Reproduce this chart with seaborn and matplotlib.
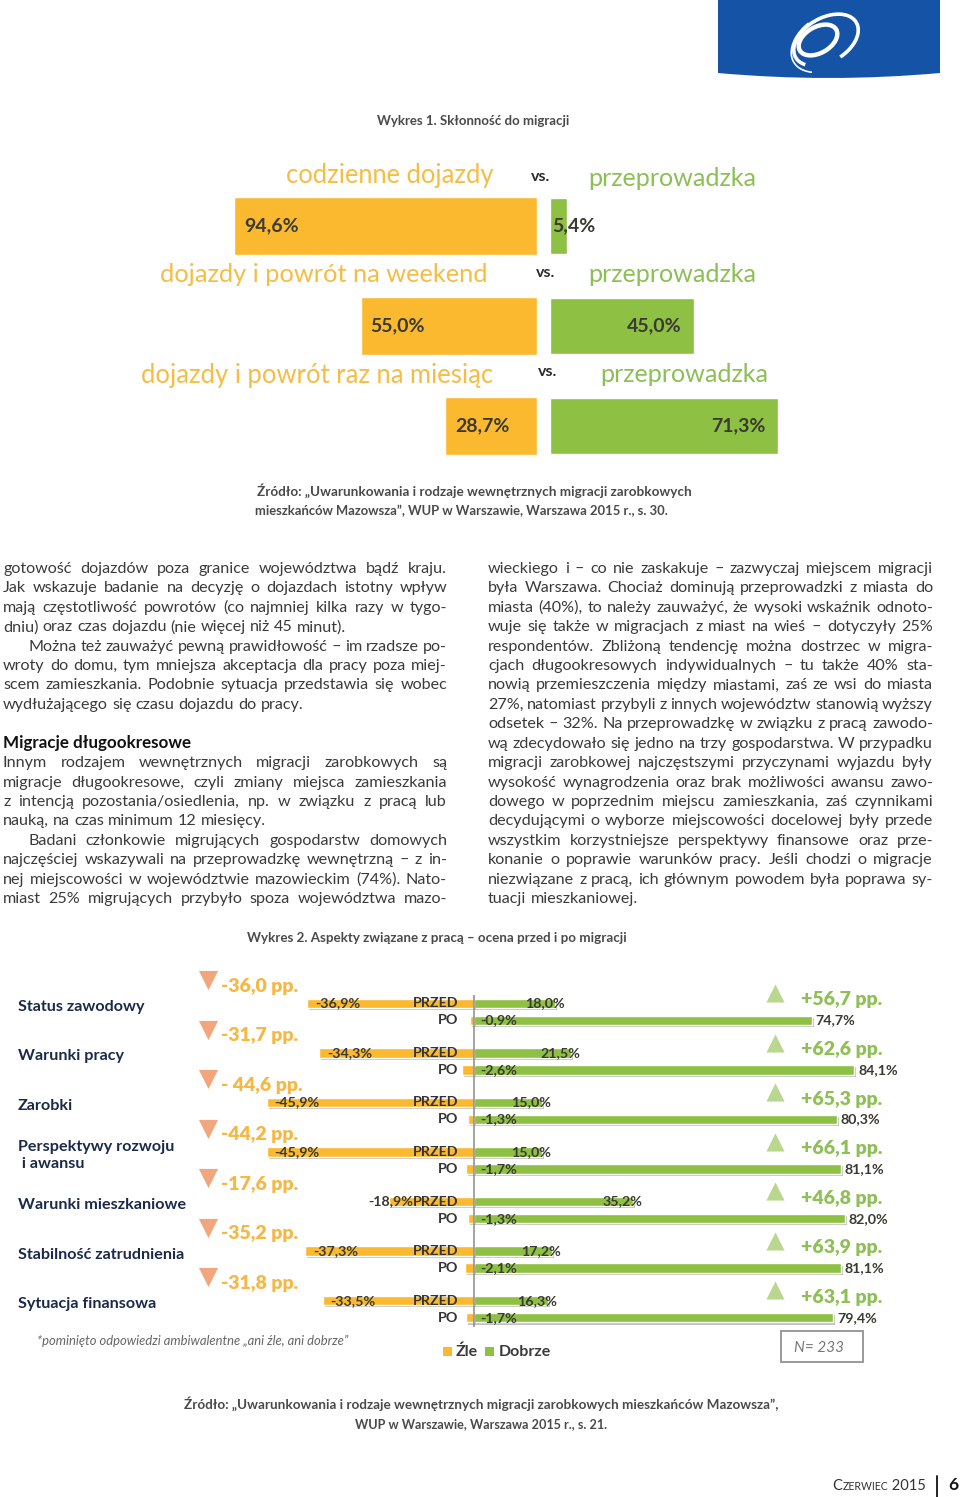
import numpy as np
import pandas as pd
import matplotlib
matplotlib.use("Agg")
import matplotlib.pyplot as plt
import seaborn as sns
from matplotlib import transforms
from matplotlib.patches import Rectangle, PathPatch, Ellipse, Arc
from matplotlib.path import Path
import matplotlib.patheffects as pe
from matplotlib import font_manager as fm

# ---------------- data: chart 1 ----------------
c1_commute = ["codzienne dojazdy", "dojazdy i powrót na weekend", "dojazdy i powrót raz na miesiąc"]
c1_commute_pct = [94.6, 55.0, 28.7]
c1_move_label = "przeprowadzka"
c1_move_pct = [5.4, 45.0, 71.3]

# ---------------- data: chart 2 ----------------
c2_aspects = ["Status zawodowy", "Warunki pracy", "Zarobki", "Perspektywy rozwoju\n i awansu",
              "Warunki mieszkaniowe", "Stabilność zatrudnienia", "Sytuacja finansowa"]
c2_periods = ["PRZED", "PO"]
c2_bad_before = [-36.9, -34.3, -45.9, -45.9, -18.9, -37.3, -33.5]
c2_bad_after = [-0.9, -2.6, -1.3, -1.7, -1.3, -2.1, -1.7]
c2_good_before = [18.0, 21.5, 15.0, 15.0, 35.2, 17.2, 16.3]
c2_good_after = [74.7, 84.1, 80.3, 81.1, 82.0, 81.1, 79.4]
c2_bad_change = ["-36,0 pp.", "-31,7 pp.", "- 44,6 pp.", "-44,2 pp.", "-17,6 pp.", "-35,2 pp.", "-31,8 pp."]
c2_good_change = ["+56,7 pp.", "+62,6 pp.", "+65,3 pp.", "+66,1 pp.", "+46,8 pp.", "+63,9 pp.", "+63,1 pp."]
c2_legend = ["Źle", "Dobrze"]
c2_n = "N= 233"

# ---------------- body text ----------------
left_col = [
    ("gotowość dojazdów poza granice województwa bądź kraju.", "j"),
    ("Jak wskazuje badanie na decyzję o dojazdach istotny wpływ", "j"),
    ("mają częstotliwość powrotów (co najmniej kilka razy w tygo-", "j"),
    ("dniu) oraz czas dojazdu (nie więcej niż 45 minut).", "l"),
    ("Można też zauważyć pewną prawidłowość – im rzadsze po-", "ij"),
    ("wroty do domu, tym mniejsza akceptacja dla pracy poza miej-", "j"),
    ("scem zamieszkania. Podobnie sytuacja przedstawia się wobec", "j"),
    ("wydłużającego się czasu dojazdu do pracy.", "l"),
    ("", "blank"),
    ("Migracje długookresowe", "h"),
    ("Innym rodzajem wewnętrznych migracji zarobkowych są", "j"),
    ("migracje długookresowe, czyli zmiany miejsca zamieszkania", "j"),
    ("z intencją pozostania/osiedlenia, np. w związku z pracą lub", "j"),
    ("nauką, na czas minimum 12 miesięcy.", "l"),
    ("Badani członkowie migrujących gospodarstw domowych", "ij"),
    ("najczęściej wskazywali na przeprowadzkę wewnętrzną – z in-", "j"),
    ("nej miejscowości w województwie mazowieckim (74%). Nato-", "j"),
    ("miast 25% migrujących przybyło spoza województwa mazo-", "j"),
]
right_col = [
    ("wieckiego i – co nie zaskakuje – zazwyczaj miejscem migracji", "j"),
    ("była Warszawa. Chociaż dominują przeprowadzki z miasta do", "j"),
    ("miasta (40%), to należy zauważyć, że wysoki wskaźnik odnoto-", "j"),
    ("wuje się także w migracjach z miast na wieś – dotyczyły 25%", "j"),
    ("respondentów. Zbliżoną tendencję można dostrzec w migra-", "j"),
    ("cjach długookresowych indywidualnych – tu także 40% sta-", "j"),
    ("nowią przemieszczenia między miastami, zaś ze wsi do miasta", "j"),
    ("27%, natomiast przybyli z innych województw stanowią wyższy", "j"),
    ("odsetek – 32%. Na przeprowadzkę w związku z pracą zawodo-", "j"),
    ("wą zdecydowało się jedno na trzy gospodarstwa. W przypadku", "j"),
    ("migracji zarobkowej najczęstszymi przyczynami wyjazdu były", "j"),
    ("wysokość wynagrodzenia oraz brak możliwości awansu zawo-", "j"),
    ("dowego w poprzednim miejscu zamieszkania, zaś czynnikami", "j"),
    ("decydującymi o wyborze miejscowości docelowej były przede", "j"),
    ("wszystkim korzystniejsze perspektywy finansowe oraz prze-", "j"),
    ("konanie o poprawie warunków pracy. Jeśli chodzi o migracje", "j"),
    ("niezwiązane z pracą, ich głównym powodem była poprawa sy-", "j"),
    ("tuacji mieszkaniowej.", "l"),
]

# ---------------- styling ----------------
ORANGE = "#FBB92F"
GREEN = "#8DC043"
ORANGE_TXT = "#F6BD45"
GREEN_TXT = "#8CBF55"
DARK = "#3a3a32"
BODY = "#3a3a3a"
GRAY_T = "#4a4a4a"
NAVY = "#1B2A4A"

W, H = 960, 1497
sns.set_theme(style="white")


def has_font(name):
    try:
        fm.findfont(fm.FontProperties(family=name), fallback_to_default=False)
        return True
    except Exception:
        return False


NARROW = "Liberation Sans Narrow" if has_font("Liberation Sans Narrow") else "Lato"
plt.rcParams["font.family"] = ["Lato", "DejaVu Sans"]

fig = plt.figure(figsize=(W / 100, H / 100), dpi=100)
page = fig.add_axes([0, 0, 1, 1])
page.set_xlim(0, W)
page.set_ylim(H, 0)
page.axis("off")
page.set_zorder(0)
renderer = fig.canvas.get_renderer()


def px_axes(x0, y0, x1, y1):
    ax = fig.add_axes([x0 / W, 1 - y1 / H, (x1 - x0) / W, (y1 - y0) / H])
    ax.patch.set_alpha(0)
    ax.set_zorder(2)
    return ax


def width_of(t):
    return t.get_window_extent(renderer).width


def measure(s, fs, **kw):
    t = page.text(0, 0, s, fontsize=fs, **kw)
    w = width_of(t)
    t.remove()
    return w


def fit(x, y, s, target_w, ha="left", va="center", **kw):
    t = page.text(x, y, s, fontsize=10, ha=ha, va=va, **kw)
    w = width_of(t)
    t.set_fontsize(10 * target_w / w)
    return t


# ---------------- logo ----------------
logo_path = Path([(718, 0), (940, 0), (940, 73), (829, 83), (718, 73), (718, 0)],
                 [Path.MOVETO, Path.LINETO, Path.LINETO, Path.CURVE3, Path.CURVE3, Path.CLOSEPOLY])
page.add_patch(PathPatch(logo_path, facecolor="#1553A6", edgecolor="none"))
page.add_patch(Ellipse((818, 40), 42, 26, angle=-30, fill=False, ec="white", lw=3.2))
page.add_patch(Arc((826, 40), 70, 44, angle=-30, theta1=-200, theta2=80, ec="white", lw=2.6))
page.add_patch(Arc((830, 41), 84, 54, angle=-30, theta1=150, theta2=250, ec="white", lw=1.2))

# ---------------- chart 1 ----------------
fit(473, 121, "Wykres 1. Skłonność do migracji", 193, ha="center", color=GRAY_T, fontweight="bold")

df1 = pd.DataFrame({"kategoria": c1_commute, "dojazdy": c1_commute_pct, "przeprowadzka": c1_move_pct})
axL = px_axes(217, 176, 537, 476)
axR = px_axes(550, 176, 870, 476)
sns.barplot(data=df1, x="dojazdy", y="kategoria", color=ORANGE, saturation=1, width=0.58, orient="h", ax=axL)
sns.barplot(data=df1, x="przeprowadzka", y="kategoria", color=GREEN, saturation=1, width=0.56, orient="h", ax=axR)
axL.set_xlim(100, 0)
axR.set_xlim(0, 100)
for ax in (axL, axR):
    ax.set_ylim(2.5, -0.5)
    ax.axis("off")


def pct(v):
    return f"{v:.1f}".replace(".", ",") + "%"


for i, v in enumerate(c1_commute_pct):
    axL.text(v - 3, i, pct(v), ha="left", va="center", fontsize=14, fontweight="bold", color=DARK)
for i, v in enumerate(c1_move_pct):
    if v < 15:
        axR.text(0.6, i, pct(v), ha="left", va="center", fontsize=14, fontweight="bold", color=DARK)
    else:
        axR.text(v - 4, i, pct(v), ha="right", va="center", fontsize=14, fontweight="bold", color=DARK)

c1_label_px = [(493, 175, 208), (488, 275, 329), (493, 375, 353)]
c1_vs_px = [(541, 177), (546, 273), (548, 372)]
c1_move_px = [(588, 178), (588, 275), (600, 375)]
for i, lab in enumerate(c1_commute):
    x, y, w = c1_label_px[i]
    fit(x, y, lab, w, ha="right", color=ORANGE_TXT)
    page.text(c1_vs_px[i][0], c1_vs_px[i][1], "vs.", ha="center", va="center", fontsize=11.5,
              fontweight="bold", color="#2b2b2b")
    fit(c1_move_px[i][0], c1_move_px[i][1], c1_move_label, 169, ha="left", color=GREEN_TXT)

fit(257, 491, "Źródło: „Uwarunkowania i rodzaje wewnętrznych migracji zarobkowych", 433,
    color=GRAY_T, fontweight="bold")
fit(255, 511, "mieszkańców Mazowsza”, WUP w Warszawie, Warszawa 2015 r., s. 30.", 412,
    color=GRAY_T, fontweight="bold")

# ---------------- body text ----------------
fs_body = 10 * 343 / measure("dniu) oraz czas dojazdu (nie więcej niż 45 minut).", 10)
space_w = measure("a a", fs_body) - measure("aa", fs_body)
INDENT = 25
LINE0, PITCH = 568, (898 - 568) / 17


def body_column(lines, x0, x1):
    for k, (txt, mode) in enumerate(lines):
        base = LINE0 + k * PITCH + 5
        if mode == "blank":
            continue
        if mode == "h":
            fit(x0, base, txt, 189, va="baseline", fontweight="bold", color="#111111")
            continue
        indent = INDENT if mode.startswith("i") else 0
        words = txt.split()
        ts = [page.text(0, base, w_, fontsize=fs_body, color=BODY,
                        ha="left", va="baseline") for w_ in words]
        ws = [width_of(t) for t in ts]
        avail = x1 - x0 - indent
        n = len(words)
        gap = space_w
        if n > 1 and mode in ("j", "ij"):
            gap = (avail - sum(ws)) / (n - 1)
            if gap < 0.6 * space_w:
                scale = (avail - (n - 1) * 0.6 * space_w) / sum(ws)
                for t in ts:
                    t.set_fontsize(fs_body * scale)
                ws = [w * scale for w in ws]
                gap = 0.6 * space_w
        x = x0 + indent
        for t, w in zip(ts, ws):
            t.set_x(x)
            x += w + gap


body_column(left_col, 3, 447)
body_column(right_col, 488, 933)

# ---------------- chart 2 ----------------
fit(437, 938, "Wykres 2. Aspekty związane z pracą – ocena przed i po migracji", 378, ha="center",
    color=GRAY_T, fontweight="bold")

rows = []
for i, a in enumerate(c2_aspects):
    rows.append((a, c2_periods[0], c2_bad_before[i], c2_good_before[i]))
    rows.append((a, c2_periods[1], c2_bad_after[i], c2_good_after[i]))
df2 = pd.DataFrame(rows, columns=["aspekt", "okres", "zle", "dobrze"])

PX_PER = 4.52
ZERO_PX = 474
AX2_X0, AX2_X1 = 160, 960
ax2 = px_axes(AX2_X0, 987, AX2_X1, 1334)
BAR_W = 0.69
sns.barplot(data=df2, y="aspekt", x="dobrze", hue="okres", hue_order=c2_periods, palette=[GREEN, GREEN],
            width=BAR_W, gap=0.45, saturation=1, legend=False, orient="h", ax=ax2)
sns.barplot(data=df2, y="aspekt", x="zle", hue="okres", hue_order=c2_periods, palette=[ORANGE, ORANGE],
            width=BAR_W, gap=0.45, saturation=1, legend=False, orient="h", ax=ax2)
for p in ax2.patches:
    p.set_path_effects([pe.SimplePatchShadow(offset=(1.5, -1.5), shadow_rgbFace="#777777", alpha=0.45),
                        pe.Normal()])
ax2.set_xlim((AX2_X0 - ZERO_PX) / PX_PER, (AX2_X1 - ZERO_PX) / PX_PER)
ax2.set_ylim(len(c2_aspects) - 0.5, -0.5)
ax2.axis("off")
ax2.vlines(0, -0.33, len(c2_aspects) - 0.65, color="#8a8a8a", lw=1.1, zorder=4)

off = BAR_W / 4
u = 1 / PX_PER  # one pixel in data units
LBL_FS = 10.3
PP_FS = 14
przed_w = measure("PRZED", LBL_FS, fontweight="bold") * u
for i in range(len(c2_aspects)):
    yb, ya = i - off, i + off
    ax2.text(-3.5, yb, c2_periods[0], ha="right", va="center", fontsize=LBL_FS, fontweight="bold", color="#333333", zorder=6)
    ax2.text(-3.5, ya, c2_periods[1], ha="right", va="center", fontsize=LBL_FS, fontweight="bold", color="#333333", zorder=6)
    # bad before
    v = c2_bad_before[i]
    lab_w = measure(pct(v), LBL_FS, fontweight="bold") * u
    if -v < lab_w + przed_w + 5 * u:
        ax2.text(-3.5 - przed_w, yb, pct(v), ha="right", va="center", fontsize=LBL_FS, fontweight="bold", color=DARK, zorder=6)
    else:
        ax2.text(v + 8 * u, yb, pct(v), ha="left", va="center", fontsize=LBL_FS, fontweight="bold", color=DARK, zorder=6)
    # good before
    v = c2_good_before[i]
    ax2.text(v + 9 * u, yb, pct(v), ha="right", va="center", fontsize=LBL_FS, fontweight="bold", color=DARK, zorder=6)
    # bad after
    v = c2_bad_after[i]
    ax2.text(6 * u, ya, pct(v), ha="left", va="center", fontsize=LBL_FS, fontweight="bold", color=DARK, zorder=6)
    # good after
    v = c2_good_after[i]
    ax2.text(v + 4 * u, ya, pct(v), ha="left", va="center", fontsize=LBL_FS, fontweight="bold", color=DARK, zorder=6)
    # changes
    ax2.scatter([(208 - ZERO_PX) * u], [i - 0.64], marker="v", s=190, color="#F2A67E", linewidths=0,
                zorder=5, clip_on=False)
    ax2.text((221 - ZERO_PX) * u, i - 0.52, c2_bad_change[i], ha="left", va="center", fontsize=PP_FS,
             fontweight="heavy", color="#F6B844", zorder=6)
    ax2.scatter([(775 - ZERO_PX) * u], [i - 0.38], marker="^", s=170, color="#B9D78F", linewidths=0,
                zorder=5, clip_on=False)
    ax2.text((801 - ZERO_PX) * u, i - 0.24, c2_good_change[i], ha="left", va="center", fontsize=PP_FS,
             fontweight="heavy", color="#8FC057", zorder=6)

lab_tr = transforms.blended_transform_factory(page.transData, ax2.transData)
for i, a in enumerate(c2_aspects):
    page.text(18, i - 0.1, a, transform=lab_tr, ha="left", va="center", fontsize=11.6, fontweight="bold",
              color=NAVY, linespacing=1.3)

page.text(37, 1341, "*pominięto odpowiedzi ambiwalentne „ani źle, ani dobrze”", ha="left", va="center",
          fontsize=9.4, fontstyle="italic", color="#666666")
page.add_patch(Rectangle((443, 1347), 9, 9, facecolor=ORANGE, edgecolor="none"))
page.text(456, 1352, c2_legend[0], ha="left", va="center", fontsize=11.5, fontweight="bold", color="#3a3a3a")
page.add_patch(Rectangle((485, 1347), 9, 9, facecolor=GREEN, edgecolor="none"))
page.text(499, 1352, c2_legend[1], ha="left", va="center", fontsize=11.5, fontweight="bold", color="#3a3a3a")
page.add_patch(Rectangle((781, 1331), 82, 31, facecolor="none", edgecolor="#9a9a9a", lw=1.4))
page.text(819, 1348, c2_n, ha="center", va="center", fontsize=11, fontstyle="italic", color="#777777")

fit(481, 1404, "Źródło: „Uwarunkowania i rodzaje wewnętrznych migracji zarobkowych mieszkańców Mazowsza”,", 591,
    ha="center", color=GRAY_T, fontweight="bold", family=[NARROW, "DejaVu Sans"])
fit(481, 1424, "WUP w Warszawie, Warszawa 2015 r., s. 21.", 252,
    ha="center", color=GRAY_T, fontweight="bold", family=[NARROW, "DejaVu Sans"])

# ---------------- footer ----------------
parts = (("C", 10.5), ("ZERWIEC", 7.6), (" 2015", 10.5))
ws_f = [measure(s, fs, family=[NARROW, "DejaVu Sans"]) for s, fs in parts]
x = 926 - sum(ws_f)
for (s, fs), wf in zip(parts, ws_f):
    page.text(x, 1490, s, ha="left", va="baseline", fontsize=fs, color="#333333", family=[NARROW, "DejaVu Sans"])
    x += wf
page.plot([937, 937], [1476, 1497], color="#222222", lw=1.4)
page.text(948, 1490, "6", ha="left", va="baseline", fontsize=12.5, fontweight="bold", color="#111111")

fig.savefig("out.png", dpi=100)
